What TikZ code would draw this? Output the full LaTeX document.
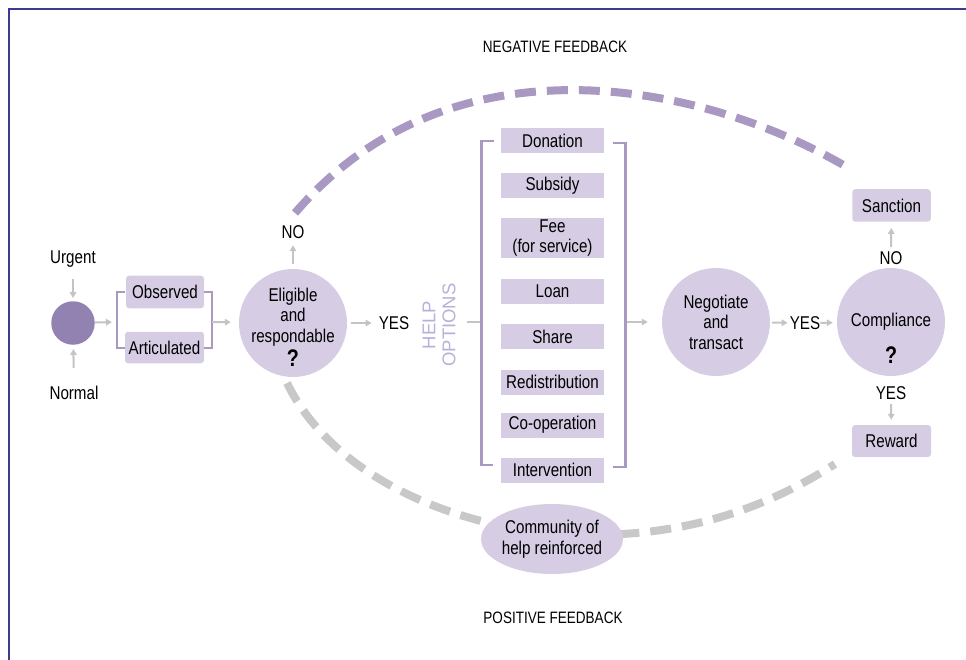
\documentclass[tikz,border=0pt]{standalone}
\usepackage{fontspec}
\setmainfont{Liberation Sans}[FakeStretch=0.82]
\newfontfamily\helpfont{Liberation Sans}
\usetikzlibrary{arrows.meta,shapes.geometric}
\definecolor{lav}{HTML}{D6CDE4}
\definecolor{dpurp}{HTML}{9282B2}
\definecolor{brk}{HTML}{A898C2}
\definecolor{arrg}{HTML}{C4C4C4}
\definecolor{posg}{HTML}{C8C8C8}
\definecolor{framec}{HTML}{3B3B8F}
\definecolor{helpc}{HTML}{B8B0D8}
\tikzset{
  lbl/.style={inner sep=0pt, align=center},
  rbox/.style={fill=lav, rounded corners=3pt, inner sep=0pt},
  obox/.style={fill=lav, inner sep=0pt, minimum width=103pt, minimum height=25pt, align=center},
  bigc/.style={circle, fill=lav, minimum size=108pt, inner sep=0pt},
  arr/.style={draw=arrg, line width=2pt, -{Triangle[length=6pt,width=6.5pt]}},
  gline/.style={draw=arrg, line width=2pt},
  brkt/.style={draw=brk, line width=2.5pt},
  negd/.style={draw=brk, line width=8pt, dash pattern=on 21pt off 11pt},
  posd/.style={draw=posg, line width=8pt, dash pattern=on 21pt off 11pt},
  qmark/.style={inner sep=0pt, font=\bfseries\fontsize{24}{24}\selectfont},
  fbtxt/.style={inner sep=0pt, font=\fontsize{16.5}{18}\selectfont}
}
\begin{document}
\begin{tikzpicture}[x=1pt,y=-1pt,font=\fontsize{18.5}{20.5}\selectfont]
\useasboundingbox (0,0) rectangle (966,660);
% frame
\draw[framec, line width=2pt] (9,660) -- (9,9) -- (966,9);

% feedback arcs
\coordinate (n0) at (295,213);
\coordinate (n1) at (845,166);
\draw[negd] (n0) .. controls (451,31) and (702,83) .. (n1);
\coordinate (p0) at (287,383);
\coordinate (pm) at (590,535);
\coordinate (p1) at (835,464);
\draw[posd] (p0) .. controls (335,482) and (470,535) .. (pm)
            .. controls (670,535) and (751,518) .. (p1);

\node[fbtxt] (negfb) at (555,47) {NEGATIVE FEEDBACK};
\node[fbtxt] (posfb) at (553,618) {POSITIVE FEEDBACK};

% left part
\node[circle, fill=dpurp, minimum size=43.5pt, inner sep=0pt] (dot) at (73,323) {};
\node[lbl] (urgent) at (73,259) {Urgent};
\node[lbl] (normal) at (74,393) {Normal};
\draw[arr, shorten <=12pt, shorten >=3pt] (urgent) -- (dot);
\draw[arr, shorten <=18pt, shorten >=4pt] (normal) -- (dot);

\node[rbox, minimum width=78pt, minimum height=32.5pt] (obs) at (165,292) {Observed};
\node[rbox, minimum width=79pt, minimum height=31.5pt] (art) at (164.5,347.5) {Articulated};
\draw[brkt] (125,292) -- (117,292) -- (117,348) -- (125,348);
\draw[brkt] (204,292) -- (212,292) -- (212,348) -- (204,348);
\coordinate (lb) at (116,322);
\coordinate (rb) at (212,322);
\draw[arr, shorten >=4pt] (dot) -- (lb);

% eligible
\node[bigc] (elig) at (293,323) {};
\node[lbl] (eligtxt) at (293,317) {Eligible\\and\\respondable};
\node[qmark] (eligq) at (293,358) {?};
\draw[arr, shorten >=8pt] (rb) -- (elig);
\node[lbl] (no1) at (293,232) {NO};
\draw[arr, shorten <=5pt, shorten >=6.5pt] (elig) -- (no1);
\node[lbl] (yes1) at (394,323) {YES};
\draw[arr, shorten <=4pt, shorten >=7pt] (elig) -- (yes1);

% help options
\node[lbl, rotate=90, font=\helpfont\fontsize{18.5}{20}\selectfont, text=helpc] (help) at (439,325) {HELP\\OPTIONS};
\coordinate (olb) at (481.5,322);
\coordinate (orb) at (625.5,322);
\draw[gline] (467,322) -- (olb);

\node[obox] (don) at (552.5,141) {Donation};
\node[obox] (sub) at (552.5,185.5) {Subsidy};
\node[obox, minimum height=40pt] (fee) at (552.5,238) {Fee\\[-1pt](for service)};
\node[obox] (loan) at (552.5,291.5) {Loan};
\node[obox] (share) at (552.5,336.5) {Share};
\node[obox] (redis) at (552.5,382) {Redistribution};
\node[obox] (coop) at (552.5,425) {Co-operation};
\node[obox] (interv) at (552.5,470) {Intervention};
\draw[brkt] (494,141) -- (481.5,141) -- (481.5,465) -- (493,465);
\draw[brkt] (613,143) -- (625.5,143) -- (625.5,467) -- (613,467);

% negotiate
\node[bigc, align=center] (nego) at (716,322) {Negotiate\\and\\transact};
\draw[arr, shorten <=1.5pt, shorten >=14pt] (orb) -- (nego);
\node[lbl] (yes2) at (805,323) {YES};
\draw[arr, shorten <=2pt, shorten >=2pt] (nego) -- (yes2);

% compliance
\node[bigc] (comp) at (891,322) {};
\node[lbl] (comptxt) at (891,322) {Compliance};
\node[qmark] (compq) at (891,355) {?};
\draw[arr, shorten >=4pt] (yes2) -- (comp);
\node[lbl] (no2) at (891,258) {NO};
\node[rbox, minimum width=78.5pt, minimum height=32.5pt] (sanc) at (891.5,205.5) {Sanction};
\draw[arr, shorten <=4.4pt, shorten >=6pt] (no2) -- (sanc);
\node[lbl] (yes3) at (891,393) {YES};
\node[rbox, minimum width=79pt, minimum height=32pt] (rew) at (891.5,441) {Reward};
\draw[arr, shorten <=4.4pt, shorten >=5pt] (yes3) -- (rew);

% community
\node[ellipse, fill=lav, minimum width=131pt, minimum height=70pt, inner sep=0pt, align=center] (comm) at (552,539) {Community of\\help reinforced};
\end{tikzpicture}
\end{document}
